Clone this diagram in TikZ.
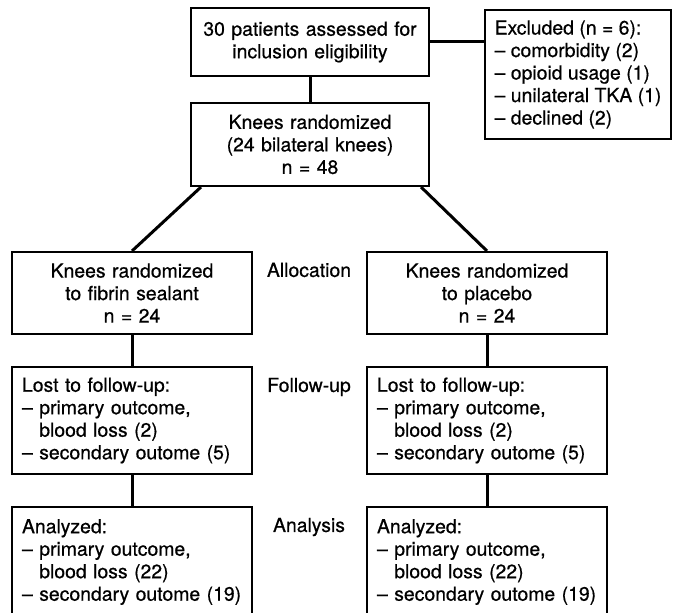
\documentclass[tikz,border=0pt]{standalone}
\usepackage{fontspec}
\setmainfont{TeX Gyre Heros}[FakeBold=0.6]
\usetikzlibrary{positioning}
\newcommand{\ind}{\phantom{\textendash\ }}

\begin{document}
\begin{tikzpicture}[x=0.5pt,y=-0.5pt,
  every node/.style={font=\fontsize{9.7}{11.25}\selectfont,text=black},
  box/.style={draw=black,line width=1pt,inner sep=0pt},
  midbox/.style={box,align=center,text width=120pt},
  listbox/.style={box,align=left,text width=110pt,inner xsep=5pt},
  link/.style={draw=black,line width=1.5pt},
  stage/.style={anchor=center}]
\useasboundingbox (0,0) rectangle (673,613);
\clip (0,0) rectangle (673,613);

\node[midbox,text width=119pt,minimum height=34pt] (top) at (310,42) {30 patients assessed for\\inclusion eligibility};
\node[midbox,text width=119pt,minimum height=41.5pt] (rand) at (310,144.5) {Knees randomized\\(24 bilateral knees)\\n = 48};
\node[box,align=left,minimum width=93pt,minimum height=64.5pt] (excl) at (578,74.5) {Excluded (n = 6):\\\textendash\ comorbidity (2)\\\textendash\ opioid usage (1)\\\textendash\ unilateral TKA (1)\\\textendash\ declined (2)};

\node[midbox,minimum height=41pt] (fib) at (132,293) {Knees randomized\\to fibrin sealant\\n = 24};
\node[midbox,minimum height=41pt] (plac) at (487,293) {Knees randomized\\to placebo\\n = 24};

\node[listbox,minimum height=53.5pt] (lostA) at (132,420.5) {Lost to follow-up:\\\textendash\ primary outcome,\\\ind blood loss (2)\\\textendash\ secondary outome (5)};
\node[listbox,minimum height=53.5pt] (lostB) at (487,420.5) {Lost to follow-up:\\\textendash\ primary outcome,\\\ind blood loss (2)\\\textendash\ secondary outome (5)};

\node[listbox,minimum height=55pt] (anaA) at (132,562) {Analyzed:\\\textendash\ primary outcome,\\\ind blood loss (22)\\\textendash\ secondary outome (19)};
\node[listbox,minimum height=55pt] (anaB) at (487,562) {Analyzed:\\\textendash\ primary outcome,\\\ind blood loss (22)\\\textendash\ secondary outome (19)};

\node[stage] (alloc) at (309,270) {Allocation};
\node[stage] (follow) at (309,387) {Follow-up};
\node[stage] (anal) at (309,527) {Analysis};

\draw[link] (top.south) -- (rand.north);
\draw[link] (top.east) -- (top.east -| excl.west);
\draw[link] ([xshift=5.5pt]rand.south west) -- (fib.north);
\draw[link] ([xshift=-4.5pt]rand.south east) -- (plac.north);
\draw[link] (fib.south) -- (lostA.north);
\draw[link] (plac.south) -- (lostB.north);
\draw[link] (lostA.south) -- (anaA.north);
\draw[link] (lostB.south) -- (anaB.north);

\end{tikzpicture}
\end{document}
